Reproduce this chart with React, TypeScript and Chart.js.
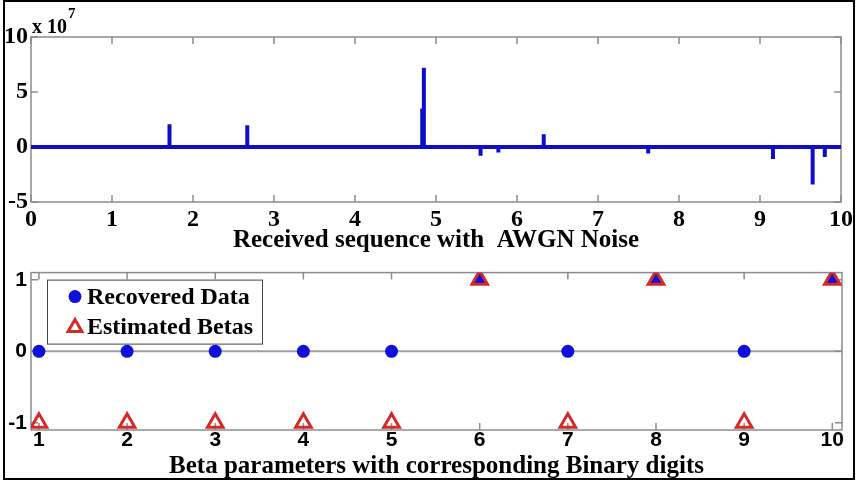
import React, { useEffect, useRef } from "react";
import { Chart, registerables } from "chart.js";

Chart.register(...registerables);

// ---- Top panel: received sequence (values in units of 1e7) ----
const spikeX = [1.34, 1.71, 1.86, 1.99, 2.32, 2.67, 2.91, 4.1, 4.83, 4.85, 5.55, 5.77, 6.33, 7.41, 7.62, 9.16, 9.65, 9.8];
const spikeY = [-0.05, 2.06, 0.12, 0.1, -0.05, 1.97, -0.05, 0.05, 3.5, 7.2, -0.8, -0.5, 1.15, -0.1, -0.6, -1.1, -3.4, -0.9];
const topXTicks = [0, 1, 2, 3, 4, 5, 6, 7, 8, 9, 10];
const topYTicks = [-5, 0, 5, 10];
const topTitle = "Received sequence with  AWGN Noise";
const topExponent = "7";

// ---- Bottom panel: beta parameters ----
const digits = [1, 2, 3, 4, 5, 6, 7, 8, 9, 10];
const recovered = [0, 0, 0, 0, 0, 1, 0, 1, 0, 1];
const betas = [-1, -1, -1, -1, -1, 1, -1, 1, -1, 1];
const bottomYTicks = [-1, 0, 1];
const bottomTitle = "Beta parameters with corresponding Binary digits";
const legendLabels = ["Recovered Data", "Estimated Betas"];

const SERIF = '"Liberation Serif", "Times New Roman", serif';
const SANS = '"Liberation Sans", Arial, sans-serif';
const LINE_BLUE = "#0e0ec8";
const BLUE = "#1010dc";
const RED = "#d42a2a";
const AXIS = "#8c8c8c";

function framePlugin(xt: number[], yt: number[], len: number, zeroLine: boolean) {
  return {
    id: "frame",
    beforeDatasetsDraw(chart: any) {
      const { ctx, chartArea } = chart;
      const { left, right, top, bottom } = chartArea;
      const xs = chart.scales.x;
      const ys = chart.scales.y;
      ctx.save();
      if (zeroLine) {
        const p = ys.getPixelForValue(0);
        ctx.strokeStyle = "#a0a0a0";
        ctx.lineWidth = 2;
        ctx.beginPath();
        ctx.moveTo(left, p);
        ctx.lineTo(right, p);
        ctx.stroke();
      }
      ctx.strokeStyle = AXIS;
      ctx.lineWidth = 1.5;
      ctx.strokeRect(left, top, right - left, bottom - top);
      ctx.beginPath();
      xt.forEach((v) => {
        const p = xs.getPixelForValue(v);
        ctx.moveTo(p, bottom);
        ctx.lineTo(p, bottom - len);
        ctx.moveTo(p, top);
        ctx.lineTo(p, top + len);
      });
      yt.forEach((v) => {
        const p = ys.getPixelForValue(v);
        ctx.moveTo(left, p);
        ctx.lineTo(left + len, p);
        ctx.moveTo(right, p);
        ctx.lineTo(right - len, p);
      });
      ctx.stroke();
      ctx.restore();
    },
  };
}

const exponentPlugin = {
  id: "exponent",
  afterDraw(chart: any) {
    const { ctx, chartArea } = chart;
    ctx.save();
    ctx.fillStyle = "#000";
    ctx.textBaseline = "alphabetic";
    ctx.textAlign = "left";
    ctx.font = `bold 20px ${SERIF}`;
    ctx.fillText("x 10", chartArea.left + 1, chartArea.top - 4);
    const w = ctx.measureText("x 10").width;
    ctx.font = `bold 15px ${SERIF}`;
    ctx.fillText(topExponent, chartArea.left + 2 + w, chartArea.top - 19);
    ctx.restore();
  },
};

function drawTriangle(ctx: any, x: number, y: number, r: number) {
  ctx.beginPath();
  ctx.moveTo(x, y - r);
  ctx.lineTo(x + r * Math.sin(Math.PI / 3), y + r * 0.5);
  ctx.lineTo(x - r * Math.sin(Math.PI / 3), y + r * 0.5);
  ctx.closePath();
}

const legendPlugin = {
  id: "boxLegend",
  afterDraw(chart: any) {
    const { ctx, chartArea } = chart;
    const bx = chartArea.left + 16;
    const by = chartArea.top + 7;
    const bw = 215;
    const bh = 64;
    ctx.save();
    ctx.fillStyle = "#fff";
    ctx.fillRect(bx, by, bw, bh);
    ctx.strokeStyle = "#444";
    ctx.lineWidth = 1;
    ctx.strokeRect(bx + 0.5, by + 0.5, bw, bh);
    // entry 1
    ctx.fillStyle = BLUE;
    ctx.beginPath();
    ctx.arc(bx + 28, by + 17, 6.5, 0, Math.PI * 2);
    ctx.fill();
    // entry 2
    ctx.strokeStyle = RED;
    ctx.lineWidth = 3;
    drawTriangle(ctx, bx + 28, by + 48, 8);
    ctx.stroke();
    ctx.fillStyle = "#000";
    ctx.font = `bold 24px ${SERIF}`;
    ctx.textBaseline = "middle";
    ctx.textAlign = "left";
    ctx.fillText(legendLabels[0], bx + 40, by + 18);
    ctx.fillText(legendLabels[1], bx + 40, by + 48);
    ctx.restore();
  },
};

export default function App() {
  const topRef = useRef<HTMLCanvasElement | null>(null);
  const botRef = useRef<HTMLCanvasElement | null>(null);

  useEffect(() => {
    const lineData: { x: number; y: number }[] = [{ x: topXTicks[0], y: 0 }];
    spikeX.forEach((x, i) => {
      lineData.push({ x, y: 0 }, { x, y: spikeY[i] }, { x, y: 0 });
    });
    lineData.push({ x: topXTicks[topXTicks.length - 1], y: 0 });

    const top = new Chart(topRef.current as HTMLCanvasElement, {
      type: "scatter",
      data: {
        datasets: [
          {
            data: lineData,
            showLine: true,
            borderColor: LINE_BLUE,
            borderWidth: 4,
            pointRadius: 0,
            tension: 0,
            borderJoinStyle: "bevel",
          } as any,
        ],
      },
      options: {
        animation: false,
        responsive: false,
        maintainAspectRatio: false,
        layout: { padding: { top: 37, right: 14, left: 0, bottom: 0 } },
        plugins: { legend: { display: false }, tooltip: { enabled: false } },
        scales: {
          x: {
            type: "linear",
            min: 0,
            max: 10,
            grid: { display: false, drawTicks: false },
            border: { display: false },
            afterBuildTicks: (s: any) => {
              s.ticks = topXTicks.map((v) => ({ value: v }));
            },
            afterFit: (s: any) => {
              s.height = 54;
            },
            ticks: {
              autoSkip: false,
              maxRotation: 0,
              padding: 3,
              color: "#000",
              font: { family: SERIF, size: 24, weight: "bold" },
              callback: (v: any) => String(v),
            },
            title: {
              display: true,
              text: topTitle,
              color: "#000",
              font: { family: SERIF, size: 25, weight: "bold" },
              padding: { top: 0, bottom: 0 },
            },
          },
          y: {
            type: "linear",
            min: -5,
            max: 10,
            grid: { display: false, drawTicks: false },
            border: { display: false },
            afterBuildTicks: (s: any) => {
              s.ticks = topYTicks.map((v) => ({ value: v }));
            },
            afterFit: (s: any) => {
              s.width = 31;
            },
            ticks: {
              padding: 3,
              color: "#000",
              font: { family: SERIF, size: 24, weight: "bold" },
              callback: (v: any) => String(v),
            },
          },
        },
      } as any,
      plugins: [framePlugin(topXTicks, topYTicks, 7, false), exponentPlugin],
    });

    const bottom = new Chart(botRef.current as HTMLCanvasElement, {
      type: "scatter",
      data: {
        datasets: [
          {
            label: legendLabels[1],
            data: digits.map((d, i) => ({ x: d, y: betas[i] })),
            pointStyle: "triangle",
            pointRadius: 9,
            borderWidth: 3,
            borderColor: RED,
            backgroundColor: "rgba(0,0,0,0)",
            order: 1,
          },
          {
            label: legendLabels[0],
            data: digits.map((d, i) => ({ x: d, y: recovered[i] })),
            pointStyle: recovered.map((v) => (v === 1 ? "triangle" : "circle")),
            pointRadius: recovered.map((v) => (v === 1 ? 7 : 6.5)),
            borderWidth: 0,
            borderColor: BLUE,
            backgroundColor: BLUE,
            order: 2,
          },
        ],
      },
      options: {
        animation: false,
        responsive: false,
        maintainAspectRatio: false,
        layout: { padding: { top: 9, right: 14, left: 0, bottom: 0 } },
        plugins: { legend: { display: false }, tooltip: { enabled: false } },
        scales: {
          x: {
            type: "linear",
            min: 0.91,
            max: 10.11,
            grid: { display: false, drawTicks: false },
            border: { display: false },
            afterBuildTicks: (s: any) => {
              s.ticks = digits.map((v) => ({ value: v }));
            },
            afterFit: (s: any) => {
              s.height = 52;
            },
            ticks: {
              autoSkip: false,
              maxRotation: 0,
              padding: 0,
              color: "#000",
              font: { family: SANS, size: 21, weight: "bold", lineHeight: 1 },
              callback: (v: any) => String(v),
            },
            title: {
              display: true,
              text: bottomTitle,
              color: "#000",
              font: { family: SERIF, size: 25, weight: "bold" },
              padding: { top: 0, bottom: 0 },
            },
          },
          y: {
            type: "linear",
            min: -1.1,
            max: 1.1,
            grid: { display: false, drawTicks: false },
            border: { display: false },
            afterBuildTicks: (s: any) => {
              s.ticks = bottomYTicks.map((v) => ({ value: v }));
            },
            afterFit: (s: any) => {
              s.width = 31;
            },
            ticks: {
              padding: 4,
              color: "#000",
              font: { family: SANS, size: 21, weight: "bold" },
              callback: (v: any) => String(v),
            },
          },
        },
      } as any,
      plugins: [framePlugin(digits, bottomYTicks, 7, true), legendPlugin],
    });

    return () => {
      top.destroy();
      bottom.destroy();
    };
  }, []);

  return (
    <div
      style={{
        position: "fixed",
        left: 0,
        top: 0,
        width: 856,
        height: 482,
        background: "#fff",
        overflow: "hidden",
      }}
    >
      <div
        style={{
          position: "absolute",
          left: 3,
          top: 0,
          width: 852,
          height: 480,
          boxSizing: "border-box",
          border: "2px solid #000",
        }}
      />
      <canvas
        ref={topRef}
        width={856}
        height={256}
        style={{ position: "absolute", left: 0, top: 0, width: 856, height: 256 }}
      />
      <canvas
        ref={botRef}
        width={856}
        height={226}
        style={{ position: "absolute", left: 0, top: 256, width: 856, height: 226 }}
      />
    </div>
  );
}
